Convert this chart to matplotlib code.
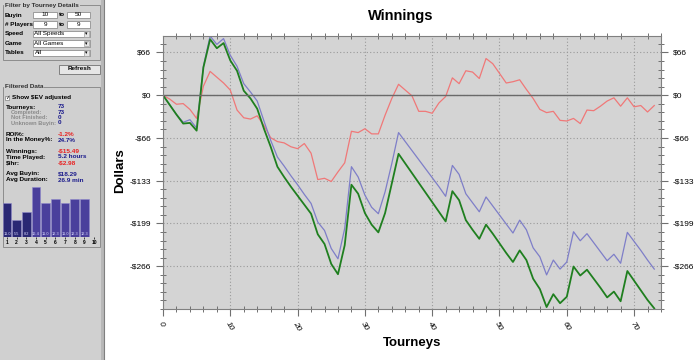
import numpy as np
import matplotlib
matplotlib.use("Agg")
import matplotlib.pyplot as plt
from matplotlib.patches import Rectangle
from matplotlib.ticker import FixedLocator, MultipleLocator, FuncFormatter

plt.rcParams['font.family'] = ['Liberation Sans', 'DejaVu Sans']

# cumulative results per tourney (dollars)
tourneys = np.arange(74)
winnings = [0, -6, -14, -13, -22, -36, 14, 37, 28, 19, 8, -23, -35, -37, -32,
            -47, -66, -72, -74, -80, -83, -75, -90, -131, -129, -134, -119, -105,
            -56, -58, -52, -60, -60, -31, -5, 17, 8, -1, -25, -25, -28, -12, -2,
            27, 18, 38, 36, 26, 57, 49, 34, 19, 21, 24, 9, -5, -22, -27, -25, -39,
            -40, -36, -44, -23, -24, -17, -9, -4, -17, -4, -18, -16, -26, -16]
line_blue = [0, -15, -30, -42, -38, -51, 45, 92, 79, 88, 62, 45, 18, 5, -9,
             -40, -70, -96, -110, -125, -139, -154, -168, -197, -210, -238, -254,
             -207, -111, -127, -155, -174, -184, -150, -106, -58, -72, -86, -100,
             -114, -128, -142, -157, -109, -123, -153, -167, -181, -158, -172, -186,
             -200, -214, -194, -209, -237, -251, -279, -256, -270, -259, -212, -226,
             -215, -229, -243, -257, -247, -261, -213, -227, -241, -256, -270]
line_green = [0, -15, -30, -44, -43, -55, 43, 87, 73, 81, 54, 38, 7, -5, -21,
              -52, -80, -111, -127, -142, -156, -170, -184, -216, -231, -262, -278,
              -233, -139, -153, -183, -201, -213, -183, -137, -91, -106, -121, -136,
              -151, -166, -181, -196, -149, -163, -194, -209, -223, -201, -215, -230,
              -245, -259, -241, -256, -285, -301, -329, -309, -323, -313, -266, -280,
              -271, -285, -299, -314, -305, -320, -273, -288, -303, -318, -331]
y_step = 66.4

# finishing position distribution (%)
positions = np.arange(1, 11)
finish_pct = [11.0, 5.5, 8.2, 16.4, 11.0, 12.3, 11.0, 12.3, 12.3, 0.0]

# side panel texts
filter_labels = ["Buyin", "# Players", "Speed", "Game", "Tables"]
range_values = [("10", "50"), ("9", "9")]
combo_values = ["All Speeds", "All Games", "All"]
stat_labels = ["Tourneys:", "Completed:", "Not Finished:", "Unknown Buyin:",
               "ROI%:", "In the Money%:", "Winnings:", "Time Played:", "$/hr:",
               "Avg Buyin:", "Avg Duration:"]
stat_values = ["73", "73", "0", "0", "-1.2%", "24.7%", "-$15.49", "5.2 hours",
               "-$2.98", "$18.29", "26.9 min"]

PANEL = '#d0d0d0'
NAVY = '#1c1c8c'
RED = '#e82020'

fig = plt.figure(figsize=(7, 3.6), dpi=100)
fig.patch.set_facecolor('white')

# ---- left panel, drawn in pixel coords
pan = fig.add_axes([0, 0, 1, 1], zorder=0)
pan.set_xlim(0, 700)
pan.set_ylim(360, 0)
pan.axis('off')
pan.add_patch(Rectangle((0, 0), 101, 360, fc=PANEL, ec='none'))
pan.add_patch(Rectangle((101, 0), 3, 360, fc='#b8b8b8', ec='none'))
pan.plot([104, 104], [0, 360], color='#808080', lw=0.8)

fs = 4.6

def group_box(y0, y1, title):
    pan.add_patch(Rectangle((2.5, y0), 97, y1 - y0, fc='none', ec='#8c8c8c', lw=0.7))
    pan.text(5, y0, title, fontsize=fs, weight='bold', color='#303030', va='center',
             bbox=dict(fc=PANEL, ec='none', pad=0.6))

group_box(5, 60, "Filter by Tourney Details")
row_y = [15, 24.5, 34, 43.5, 53]
for lab, y in zip(filter_labels, row_y):
    pan.text(5, y, lab, fontsize=fs, weight='bold', va='center')
for (lo, hi), y in zip(range_values, row_y[:2]):
    pan.add_patch(Rectangle((33, y - 3.3), 24, 6.6, fc='white', ec='#909090', lw=0.6))
    pan.add_patch(Rectangle((67, y - 3.3), 23, 6.6, fc='white', ec='#909090', lw=0.6))
    pan.text(45, y, lo, fontsize=fs, ha='center', va='center')
    pan.text(62, y, "to", fontsize=fs, weight='bold', ha='center', va='center')
    pan.text(78.5, y, hi, fontsize=fs, ha='center', va='center')
for val, y in zip(combo_values, row_y[2:]):
    pan.add_patch(Rectangle((33, y - 3.3), 57, 6.6, fc='white', ec='#909090', lw=0.6))
    pan.add_patch(Rectangle((84, y - 2.7), 5.2, 5.4, fc='#e4e4e4', ec='#a0a0a0', lw=0.5))
    pan.text(86.6, y, "\u25be", fontsize=3.5, ha='center', va='center', family='DejaVu Sans')
    pan.text(34.5, y, val, fontsize=fs, va='center')

pan.add_patch(Rectangle((59, 64.5), 41, 9, fc='#e6e6e6', ec='#808080', lw=0.7))
pan.text(79.5, 69, "Refresh", fontsize=fs, weight='bold', ha='center', va='center')

group_box(87, 247, "Filtered Data")
pan.add_patch(Rectangle((5, 95.8), 4.4, 4.4, fc='white', ec='#808080', lw=0.5))
pan.text(7.2, 98, "\u2713", fontsize=4, ha='center', va='center', family='DejaVu Sans')
pan.text(11.5, 98, "Show $EV adjusted", fontsize=fs, weight='bold', va='center')

stat_y = [107, 112.3, 117.7, 123, 134, 140, 151, 157, 163, 174, 180]
for i, (lab, val, y) in enumerate(zip(stat_labels, stat_values, stat_y)):
    sub = i in (1, 2, 3)
    pan.text(11 if sub else 6, y, lab, fontsize=4.1 if sub else fs, weight='bold',
             va='center', color='#8a8a8a' if sub else 'black')
    pan.text(58, y, val, fontsize=fs, weight='bold', va='center',
             color=RED if val.startswith('-') else NAVY)

# finishing position mini bar chart
axb = fig.add_axes([2.2 / 700, 1 - 237 / 360, 96.7 / 700, 53 / 360], zorder=2)
axb.set_facecolor('none')
bar_cols = ['#2a2874'] * 3 + ['#4a3f9c'] * 7
axb.bar(positions, finish_pct, width=0.9, color=bar_cols, edgecolor='#8f88cc', lw=0.4)
for p, v in zip(positions, finish_pct):
    if v > 0:
        axb.text(p, 0.4, f"{v:.1f}", fontsize=2.8, color='#dcdcff', ha='center', va='bottom')
axb.set_xlim(0.5, 10.5)
axb.set_ylim(0, 17.3)
for s in axb.spines.values():
    s.set_visible(False)
axb.set_yticks([])
axb.set_xticks(positions)
axb.set_xticklabels([str(p) for p in positions], fontsize=3.6, weight='bold')
axb.tick_params(axis='x', length=1.2, width=0.5, pad=1)

# ---- main chart
ax = fig.add_axes([163 / 700, 1 - 309 / 360, 498 / 700, 273 / 360], zorder=1)
ax.set_facecolor('#d4d4d4')
ax.plot(tourneys, winnings, color='#f07878', lw=0.9)
ax.plot(tourneys, line_blue, color='#7e7ec8', lw=0.9)
ax.plot(tourneys, line_green, color='#1f7f1f', lw=1.3)
ax.axhline(0, color='#6a6a6a', lw=1)

ax.set_xlim(0, 74)
ax.set_ylim(-332, 92)
ax.xaxis.set_major_locator(MultipleLocator(10))
ax.xaxis.set_minor_locator(MultipleLocator(2))
ax.yaxis.set_major_locator(FixedLocator(np.arange(-4, 2) * y_step))
ax.yaxis.set_minor_locator(MultipleLocator(y_step / 5))


def dollars(v, pos):
    v = round(v)
    return "$0" if v == 0 else ("-" if v < 0 else "") + f"${abs(v)}"


ax.yaxis.set_major_formatter(FuncFormatter(dollars))
ax.grid(which='major', linestyle=(0, (1, 2)), color='#9a9a9a', lw=0.8)
for s in ax.spines.values():
    s.set_color('#808080')
ax.tick_params(which='major', direction='out', length=5, color='#707070', width=0.8,
               labelsize=6, right=True, labelright=True, top=False)
ax.tick_params(which='minor', direction='inout', length=5, color='#707070', width=0.7,
               right=True, top=True)
plt.setp(ax.get_xticklabels(), rotation=-60, ha='left', rotation_mode='anchor',
         style='italic')

fig.text(0.573, 0.955, "Winnings", ha='center', va='center', fontsize=10.5, weight='bold')
fig.text(120 / 700, 1 - 171 / 360, "Dollars", ha='center', va='center', rotation=90,
         fontsize=9.5, weight='bold')
fig.text(412 / 700, 1 - 343 / 360, "Tourneys", ha='center', va='center',
         fontsize=9.5, weight='bold')

fig.savefig("out.png", dpi=100)
